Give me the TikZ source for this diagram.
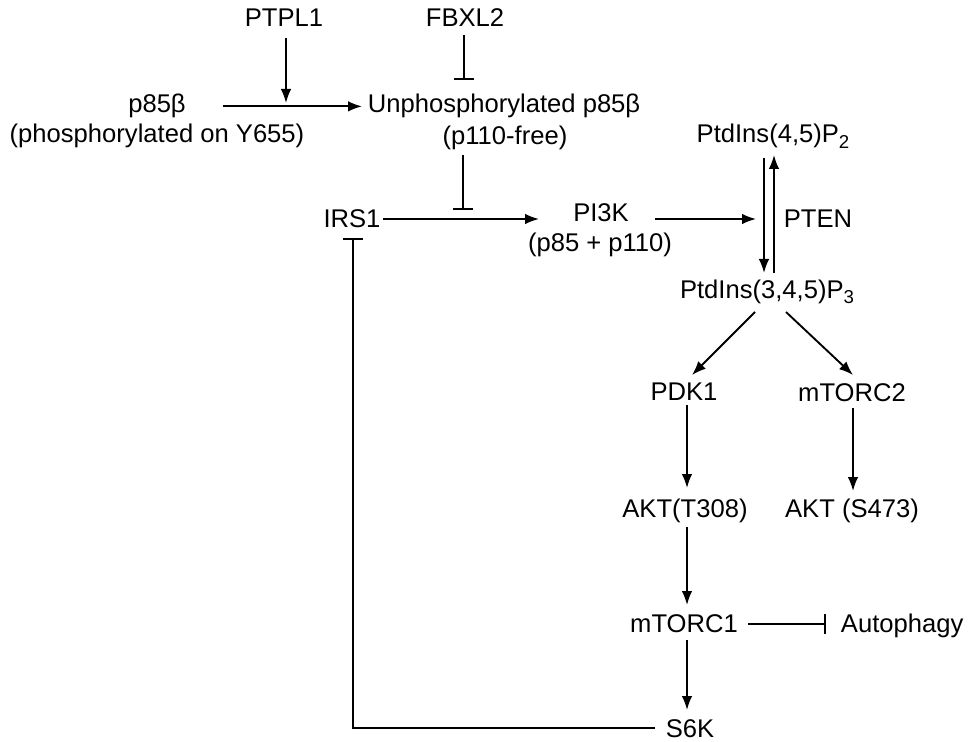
\documentclass[tikz,border=0pt]{standalone}
\usepackage{fontspec}
\setmainfont{Liberation Sans}
\usetikzlibrary{arrows.meta,calc}
\tikzset{>={Latex[length=10.5pt,width=8pt]}}
\tikzset{lbl/.style={inner sep=0pt,anchor=base,font=\fontsize{19.2}{22.5}\selectfont}}
\tikzset{inh/.style={-{Bar[width=15pt]}}}
\newcommand{\lowidx}[1]{\raisebox{-4pt}{\fontsize{14}{14}\selectfont #1}}

\begin{document}
\begin{tikzpicture}[x=0.75pt,y=-0.75pt,line width=1.4pt]
  \useasboundingbox (0,0) rectangle (969,741);

  % UPSTREAM OF PI3K
  \node[lbl] (ptpl1) at (284,27) {PTPL1};
  \node[lbl] (fbxl2) at (465,27) {FBXL2};
  \node[lbl] (p85) at (157,113) {p85β};
  \node[lbl] (p85y) at (157,143) {(phosphorylated on Y655)};
  \node[lbl,anchor=base west] (unp) at (367,113) {Unphosphorylated p85β};
  \node[lbl] (free) at (505,145) {(p110-free)};
  \node[lbl] (irs1) at (352,228) {IRS1};
  \node[lbl] (pi3k) at (601,222) {PI3K};
  \node[lbl] (pi3ksub) at (600,252) {(p85 + p110)};

  % LIPIDS
  \node[lbl] (pip2) at (773,143) {PtdIns(4,5)P\lowidx{2}};
  \node[lbl] (pten) at (818,228) {PTEN};
  \node[lbl] (pip3) at (767,298) {PtdIns(3,4,5)P\lowidx{3}};

  % DOWNSTREAM
  \node[lbl] (pdk1) at (684,400) {PDK1};
  \node[lbl] (mtorc2) at (852,401) {mTORC2};
  \node[lbl] (aktt) at (685,517) {AKT(T308)};
  \node[lbl] (akts) at (852,517) {AKT (S473)};
  \node[lbl] (mtorc1) at (684,632) {mTORC1};
  \node[lbl,anchor=base west] (autoph) at (840,632) {Autophagy};
  \node[lbl] (s6k) at (690,737) {S6K};

  \draw[->] ($(ptpl1.base)+(2,11)$) -- ($(ptpl1.base)+(2,76)$);
  \draw[inh] ($(fbxl2.base)+(-1,8)$) -- ($(fbxl2.base)+(-1,53)$);
  \draw[->] ($(p85.east)+(36,0)$) -- ($(unp.west)+(-5,0)$);
  \draw[inh] ($(free.base)+(-42,10)$) -- ($(free.base)+(-42,65)$);
  \draw[->] ($(irs1.base)+(31,-9)$) -- ($(pi3k.base |- irs1.base)+(-62,-9)$);
  \draw[->] ($(pi3k.base |- irs1.base)+(54,-9)$) -- ($(pip2.base |- irs1.base)+(-17,-9)$);
  \draw[->] ($(pip2.base)+(-9,15)$) -- ($(pip3.base)+(-3,-25)$);
  \draw[->] ($(pip3.base)+(7,-25)$) -- ($(pip2.base)+(1,12)$);
  \draw[->] ($(pip3.base)+(-12,14)$) -- ($(pdk1.base)+(8,-25)$);
  \draw[->] ($(pip3.base)+(19,14)$) -- ($(mtorc2.base)+(1,-26)$);
  \draw[->] ($(pdk1.base)+(3,5)$) -- ($(aktt.base)+(2,-29)$);
  \draw[->] ($(mtorc2.base)+(1,7)$) -- ($(akts.base)+(1,-26)$);
  \draw[->] ($(aktt.base)+(2,10)$) -- ($(mtorc1.base)+(3,-27)$);
  \draw[->] ($(mtorc1.base)+(3,8)$) -- ($(s6k.base)+(-3,-27)$);
  \draw[inh] ($(mtorc1.base)+(64,-8)$) -- ($(autoph.base west)+(-14,-8)$);
  \draw[inh] ($(s6k.base)+(-35,-9)$) -| ($(irs1.base)+(1,10)$);

\end{tikzpicture}
\end{document}
